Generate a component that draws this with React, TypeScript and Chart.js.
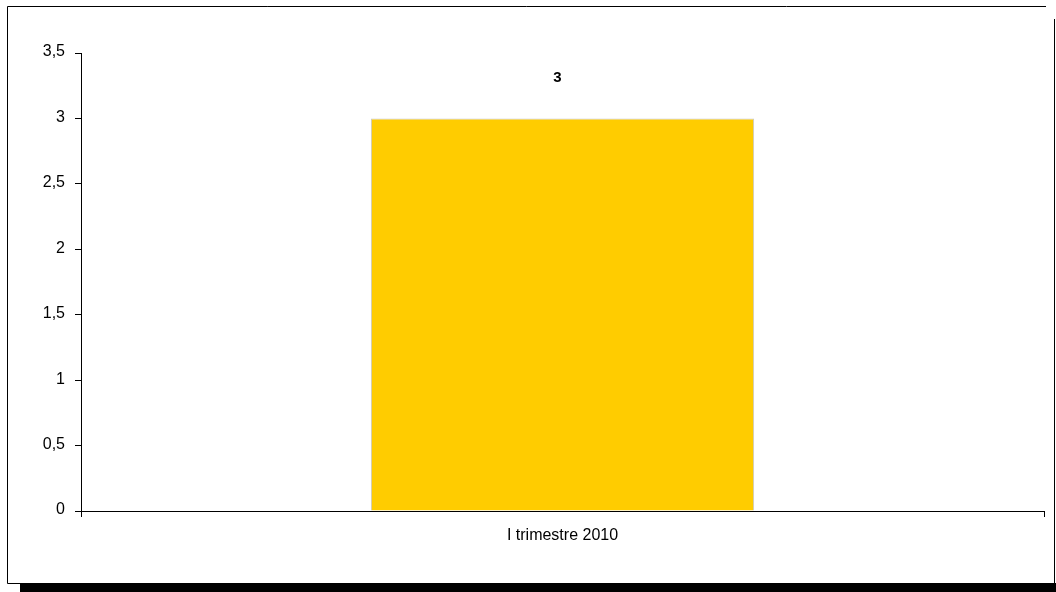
import React, { useEffect, useRef } from "react";
import { Chart, registerables } from "chart.js";

Chart.register(...registerables);

const categories: string[] = ["I trimestre 2010"];
const values: number[] = [3];
const yTicks: number[] = [0, 0.5, 1, 1.5, 2, 2.5, 3, 3.5];

const FONT = "'Liberation Sans', Arial, sans-serif";
const fmt = (v: number) => String(v).replace(".", ",");

const framePlugin = {
  id: "frame",
  beforeDraw(chart: any) {
    const ctx = chart.ctx;
    ctx.save();
    ctx.fillStyle = "#ffffff";
    ctx.fillRect(0, 0, chart.width, chart.height);
    ctx.strokeStyle = "#000000";
    ctx.lineWidth = 1;
    ctx.beginPath();
    ctx.moveTo(7.5, 583.5);
    ctx.lineTo(7.5, 6.5);
    ctx.lineTo(1046, 6.5);
    ctx.moveTo(1054.5, 19);
    ctx.lineTo(1054.5, 583);
    ctx.moveTo(7.5, 583.5);
    ctx.lineTo(20, 583.5);
    ctx.stroke();
    ctx.fillStyle = "#000000";
    ctx.fillRect(20, 583, 1036, 9);
    ctx.restore();
  },
};

const labelPlugin = {
  id: "barLabels",
  afterDatasetsDraw(chart: any) {
    const ctx = chart.ctx;
    const meta = chart.getDatasetMeta(0);
    ctx.save();
    ctx.fillStyle = "#000000";
    ctx.font = "bold 15px " + FONT;
    ctx.textAlign = "center";
    ctx.textBaseline = "middle";
    meta.data.forEach((el: any, i: number) => {
      ctx.fillText(fmt(values[i]), el.x - 5, el.y - 41);
    });
    // y tick labels
    const ys = chart.scales.y;
    ctx.font = "16px " + FONT;
    ctx.textAlign = "right";
    ctx.textBaseline = "middle";
    yTicks.forEach((v) => {
      ctx.fillText(fmt(v), ys.right - 16, ys.getPixelForValue(v) - 1);
    });
    ctx.restore();
  },
};

export default function App() {
  const ref = useRef<HTMLCanvasElement>(null);
  useEffect(() => {
    document.body.style.margin = "0";
    const canvas = ref.current!;
    const chart = new Chart(canvas, {
      type: "bar",
      data: {
        labels: categories,
        datasets: [
          {
            data: values,
            backgroundColor: "#FFCC00",
            borderColor: "#C8C8C8",
            borderWidth: 1,
            barPercentage: 0.398,
            categoryPercentage: 1,
          },
        ],
      },
      options: {
        responsive: false,
        animation: false,
        devicePixelRatio: 1,
        layout: { padding: { left: 8, right: 12, top: 53, bottom: 41 } },
        plugins: { legend: { display: false }, tooltip: { enabled: false } },
        scales: {
          x: {
            offset: true,
            grid: {
              offset: true,
              drawOnChartArea: false,
              drawTicks: true,
              tickLength: 6,
              color: "#000000",
            },
            border: { display: true, color: "#000000", width: 1 },
            ticks: {
              color: "#000000",
              padding: 9,
              font: { family: FONT, size: 16 },
            },
            afterFit: (s: any) => {
              s.height = 40;
            },
          },
          y: {
            min: 0,
            max: 3.5,
            afterBuildTicks: (s: any) => {
              s.ticks = yTicks.map((v) => ({ value: v }));
            },
            grid: {
              drawOnChartArea: false,
              drawTicks: true,
              tickLength: 6,
              color: "#000000",
            },
            border: { display: true, color: "#000000", width: 1 },
            ticks: {
              color: "rgba(0,0,0,0)",
              padding: 10,
              font: { family: FONT, size: 16 },
              callback: (v: any) => fmt(Number(v)),
            },
            afterFit: (s: any) => {
              s.width = 73;
            },
          },
        },
      },
      plugins: [framePlugin, labelPlugin],
    });
    return () => chart.destroy();
  }, []);
  return <canvas ref={ref} width={1056} height={592} style={{ display: "block" }} />;
}
